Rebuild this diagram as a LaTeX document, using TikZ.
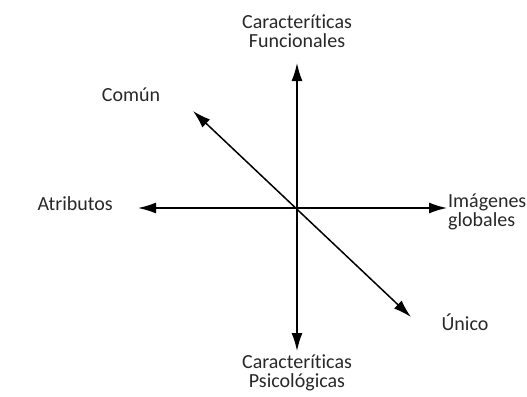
\documentclass[tikz,border=0pt]{standalone}
\usepackage{fontspec}
\setmainfont{Carlito}[Ligatures=NoCommon]
\usetikzlibrary{arrows.meta}
\definecolor{T}{RGB}{40, 40, 40}

\begin{document}
\begin{tikzpicture}[x=1pt, y=-1pt,
  axis/.style={black, line width=1.5pt, {Latex[length=18pt,width=11pt]}-{Latex[length=18pt,width=11pt]}},
  lbl/.style={text=T, font=\fontsize{20}{19.5}\selectfont, align=center, inner sep=0pt}]
  \useasboundingbox (0,0) rectangle (527,396);
  % ends of the three axes
  \coordinate (N) at (297,63);
  \coordinate (S) at (297,351);
  \coordinate (W) at (138,208);
  \coordinate (E) at (447,208);
  \coordinate (NW) at (193,111);
  \coordinate (SE) at (411,317);
  \draw[axis] (N) -- (S);
  \draw[axis] (W) -- (E);
  \draw[axis] (NW) -- (SE);
  % labels
  \node[lbl] (func) at (297,31) {Caracteríticas\\Funcionales};
  \node[lbl] (psic) at (297,373) {Caracteríticas\\Psicológicas};
  \node[lbl] (comun) at (131,95) {Común};
  \node[lbl, anchor=east] (atrib) at (113,204) {Atributos};
  \node[lbl, align=left, anchor=west] (imag) at (448,212) {Imágenes\\globales};
  \node[lbl] (unico) at (465,322) {Único};
\end{tikzpicture}
\end{document}
